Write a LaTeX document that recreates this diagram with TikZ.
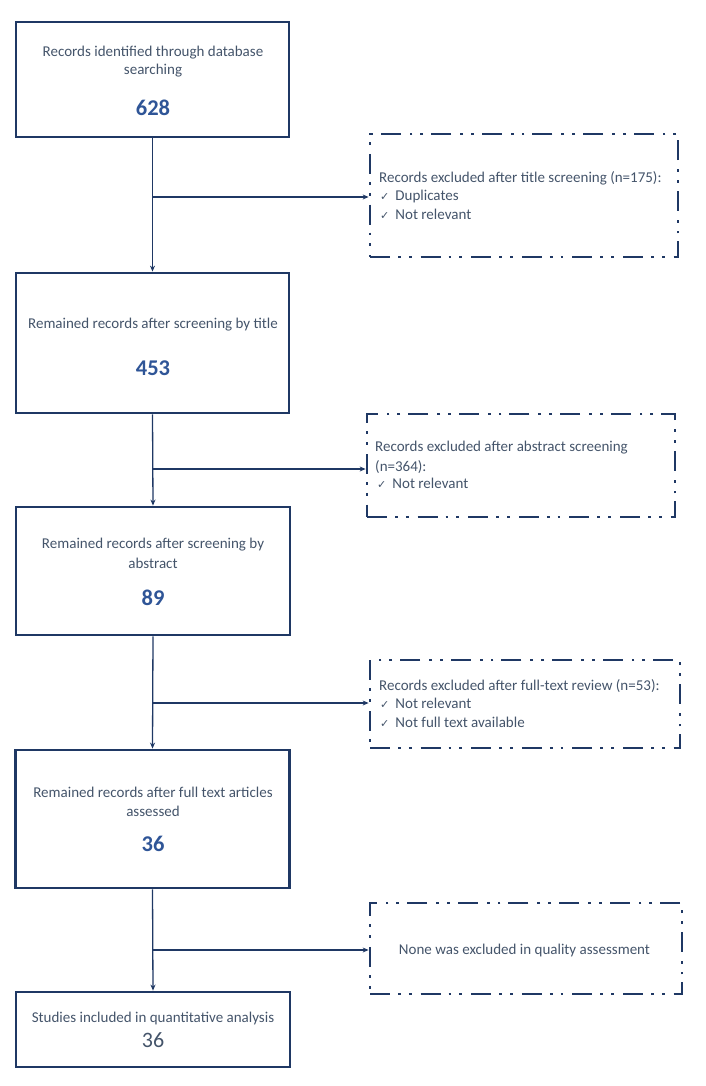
\documentclass[tikz,border=0pt]{standalone}
\usepackage{fontspec}
\setmainfont{Carlito}
\newfontfamily\symfont{DejaVu Sans}
\usetikzlibrary{arrows.meta}
\definecolor{navy}{HTML}{1F3864}
\definecolor{txtgray}{HTML}{44546A}
\definecolor{numblue}{HTML}{2F5597}
\tikzset{
  mainbox/.style={draw=navy, line width=2.8pt, rectangle, inner sep=0pt},
  exclbox/.style={draw=navy, line width=2.8pt, rectangle, inner sep=0pt,
    dash pattern=on 20pt off 8pt on 2.8pt off 8pt on 2.8pt off 9pt},
  lbl/.style={text=txtgray, font=\fontsize{15}{18}\selectfont, inner sep=0pt, align=center},
  num/.style={text=numblue, font=\fontsize{22.5}{24}\selectfont\bfseries, inner sep=0pt},
  exl/.style={text=txtgray, font=\fontsize{15}{18}\selectfont, inner sep=0pt, align=left, anchor=west},
  conn/.style={draw=navy, line width=1.3pt},
  arr/.style={conn, -{Stealth[length=6pt,width=5pt]}},
}
\newcommand{\chk}{{\symfont\fontsize{11}{18}\selectfont ✓}}
\begin{document}
\begin{tikzpicture}[x=1pt,y=-1pt]
\useasboundingbox (0,0) rectangle (706,1086);
% main boxes
\node[mainbox, minimum width=273pt, minimum height=115pt] (b1) at (152.5,79.5) {};
\node[mainbox, minimum width=273pt, minimum height=140pt] (b2) at (152.5,343) {};
\node[mainbox, minimum width=274pt, minimum height=128pt] (b3) at (153,571) {};
\node[mainbox, minimum width=274pt, minimum height=138pt] (b4) at (152.5,819) {};
\node[mainbox, minimum width=274pt, minimum height=75pt] (b5) at (153,1029.5) {};
% exclusion boxes
\node[exclbox, minimum width=308pt, minimum height=123pt] (e1) at (524,195.5) {};
\node[exclbox, minimum width=308pt, minimum height=103pt] (e2) at (521,465.5) {};
\node[exclbox, minimum width=310pt, minimum height=88pt] (e3) at (525,704) {};
\node[exclbox, minimum width=312pt, minimum height=91pt] (e4) at (526,948.5) {};
% main texts
\node[lbl] (t1a) at (153,53) {Records identified through database};
\node[lbl] (t1b) at (153,71) {searching};
\node[num] (n1) at (153,108) {628};
\node[lbl] (t2a) at (153,325) {Remained records after screening by title};
\node[num] (n2) at (153,368) {453};
\node[lbl] (t3a) at (153,545) {Remained records after screening by};
\node[lbl] (t3b) at (153,563) {abstract};
\node[num] (n3) at (153,598) {89};
\node[lbl] (t4a) at (153,792) {Remained records after full text articles};
\node[lbl] (t4b) at (153,811) {assessed};
\node[num] (n4) at (153,844) {36};
\node[lbl] (t5a) at (153,1018) {Studies included in quantitative analysis};
\node[lbl, font=\fontsize{22}{24}\selectfont] (n5) at (153,1040) {36};
% exclusion texts
\node[exl] (x1a) at (379,178) {Records excluded after title screening (n=175):};
\node[exl] (x1b) at (380,197) {\chk\hspace{6pt}Duplicates};
\node[exl] (x1c) at (380,214) {\chk\hspace{6pt}Not relevant};
\node[exl] (x2a) at (375,448) {Records excluded after abstract screening};
\node[exl] (x2b) at (375,467) {(n=364):};
\node[exl] (x2c) at (377,483) {\chk\hspace{6pt}Not relevant};
\node[exl] (x3a) at (379,686) {Records excluded after full-text review (n=53):};
\node[exl] (x3b) at (380,703) {\chk\hspace{6pt}Not relevant};
\node[exl] (x3c) at (380,722) {\chk\hspace{6pt}Not full text available};
\node[lbl] (x4a) at (524.5,950) {None was excluded in quality assessment};
% connectors
\coordinate (j1) at (153,197);
\coordinate (j2) at (153,469);
\coordinate (j3) at (153,703);
\coordinate (j4) at (153,950);
\draw[arr] (b1.south) -- (b2.north);
\draw[arr] (b2.south) -- (b3.north);
\draw[arr] (b3.south) -- (b4.north);
\draw[arr] (b4.south) -- (b5.north);
\draw[arr] (j1) -- (j1 -| e1.west);
\draw[arr] (j2) -- (j2 -| e2.west);
\draw[arr] (j3) -- (j3 -| e3.west);
\draw[arr] (j4) -- (j4 -| e4.west);
\end{tikzpicture}
\end{document}
